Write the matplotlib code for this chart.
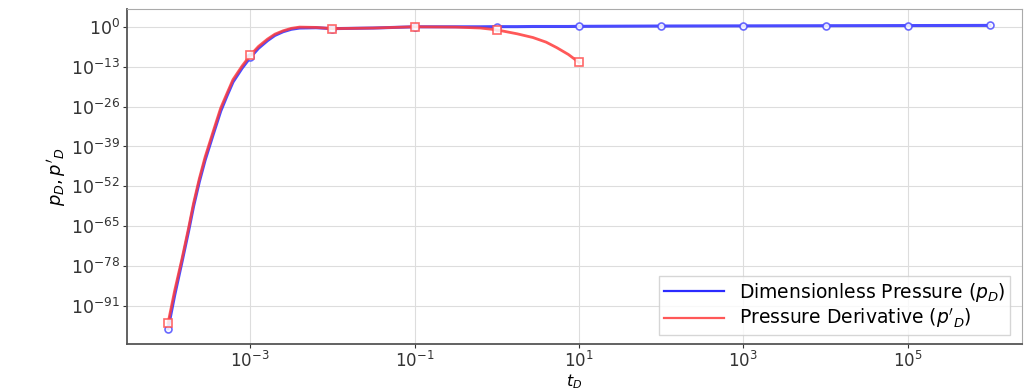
import numpy as np
import matplotlib
matplotlib.use("Agg")
from matplotlib import pyplot as plt
from matplotlib.lines import Line2D
from matplotlib.ticker import FixedLocator, NullLocator, LogFormatterSciNotation

# log10(t_D) (decade points carry the markers)
t_exp = [-4, -3.92, -3.83, -3.75, -3.69, -3.62, -3.55, -3.45, -3.36, -3.28,
         -3.21, -3.1, -3, -2.9, -2.79, -2.7, -2.6, -2.5, -2.4, -2.2, -2,
         -1.5, -1, -0.5, -0.2, 0, 0.25, 0.44, 0.6, 0.73, 0.87, 1,
         2, 3, 4, 5, 6]

# log10(p_D)
pd_exp = [-98.4, -87.5, -76.5, -66.5, -58.5, -50.5, -43.5, -35, -27.5, -22.3,
          -18, -13.5, -10, -7, -4.5, -2.8, -1.6, -0.8, -0.4, -0.3, -0.6,
          -0.4, 0, 0, 0, 0.05, 0.05, 0.1, 0.1, 0.1, 0.1, 0.15,
          0.25, 0.3, 0.35, 0.4, 0.45]

# log10(p'_D), ends at t_D = 10
dpd_exp = [-96.5, -86, -75.5, -65.5, -57.5, -49.5, -42.5, -34, -26.5, -21.5,
           -17.2, -12.8, -9.3, -6.4, -4, -2.4, -1.3, -0.5, -0.1, -0.2, -0.6,
           -0.4, 0, -0.1, -0.4, -1.0, -2.3, -3.5, -5, -6.8, -9, -11.6]

t = 10.0 ** np.array(t_exp)
pd = 10.0 ** np.array(pd_exp)
dpd = 10.0 ** np.array(dpd_exp)

decades = [i for i, e in enumerate(t_exp) if float(e).is_integer()]
decades_d = [i for i in decades if i < len(dpd_exp)]

blue = "#2b2bff"
red = "#ff3b3b"

fig = plt.figure(figsize=(10.24, 3.91), dpi=100)
ax = fig.add_axes([0.124, 0.119, 0.874, 0.858])

ax.plot(t, pd, color=blue, lw=2.2, alpha=0.85, marker="o", ms=5,
        mfc="white", mec="#4d4dff", mew=1.2, markevery=decades)
ax.plot(t[:len(dpd)], dpd, color=red, lw=2.0, alpha=0.85, marker="s", ms=6,
        mfc="white", mec="#ff4d4d", mew=1.2, markevery=decades_d)

ax.set_xscale("log")
ax.set_yscale("log")
ax.set_xlim(10 ** -4.5, 10 ** 6.39)
ax.set_ylim(10 ** -103.5, 10 ** 5.8)

ax.xaxis.set_major_locator(FixedLocator([1e-3, 1e-1, 1e1, 1e3, 1e5]))
ax.yaxis.set_major_locator(FixedLocator([10.0 ** e for e in range(0, -92, -13)]))
ax.xaxis.set_major_formatter(LogFormatterSciNotation())
ax.yaxis.set_major_formatter(LogFormatterSciNotation())
ax.xaxis.set_minor_locator(NullLocator())
ax.yaxis.set_minor_locator(NullLocator())
ax.tick_params(labelsize=12.5, colors="#333333", length=3, pad=2)
ax.tick_params(axis="x", labelsize=12, pad=1.5)

ax.grid(True, color="#dddddd", lw=0.8)
for side in ["left", "bottom"]:
    ax.spines[side].set_color("#555555")
    ax.spines[side].set_linewidth(1.3)
for side in ["top", "right"]:
    ax.spines[side].set_color("#aaaaaa")

ax.set_xlabel("$t_D$", fontsize=11.5)
ax.xaxis.set_label_coords(0.5, -0.083)
ax.xaxis.label.set_va("top")
ax.set_ylabel("$p_D, p'_D$", fontsize=13, labelpad=2)

handles = [Line2D([], [], color=blue, lw=1.6),
           Line2D([], [], color=red, lw=1.6, alpha=0.85)]
labels = ["Dimensionless Pressure ($p_D$)", "Pressure Derivative ($p'_D$)"]
ax.legend(handles, labels, loc="lower right", fontsize=13.5, handlelength=3.2,
          borderpad=0.25, labelspacing=0.15, fancybox=False,
          edgecolor="#cccccc", bbox_to_anchor=(0.997, 0.0))

fig.savefig("out.png", dpi=100)
